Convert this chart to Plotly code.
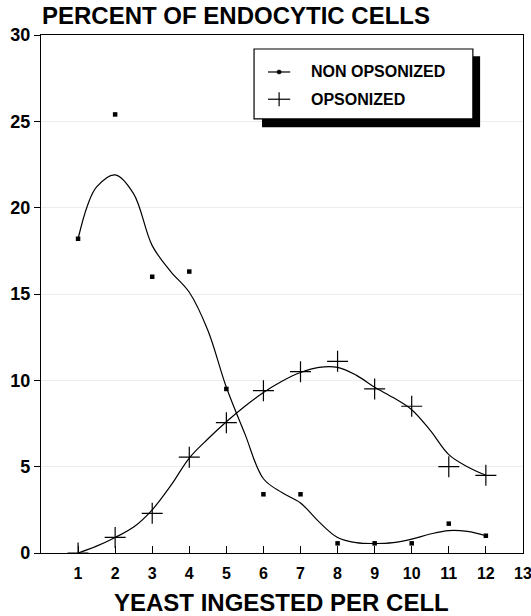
import plotly.graph_objects as go

# ---- data ----
x_points = list(range(1, 13))
non_opsonized = [18.2, 25.4, 16.0, 16.3, 9.5, 3.4, 3.4, 0.56, 0.56, 0.56, 1.7, 1.0]
opsonized = [0.0, 0.9, 2.3, 5.55, 7.55, 9.4, 10.5, 11.1, 9.5, 8.5, 5.0, 4.5]

# smoothed curves as drawn in the reference
curve_x_non = [1, 1.25, 1.5, 2, 2.5, 3, 3.5, 4, 4.5, 5, 5.5, 6, 6.5, 7, 7.5, 8, 8.5, 9, 9.5, 10, 10.5, 11, 11.5, 12]
curve_y_non = [18.2, 20.1, 21.2, 21.9, 20.8, 17.8, 16.3, 15.1, 12.9, 9.6, 6.9, 4.3, 3.5, 2.9, 1.8, 0.9, 0.6, 0.55, 0.6, 0.8, 1.1, 1.3, 1.25, 1.0]
curve_x_op = [1, 1.5, 2, 2.5, 3, 3.5, 4, 4.5, 5, 5.5, 6, 6.5, 7, 7.5, 8, 8.5, 9, 9.5, 10, 10.5, 11, 11.5, 12]
curve_y_op = [0.0, 0.4, 0.9, 1.5, 2.5, 3.9, 5.5, 6.6, 7.6, 8.5, 9.3, 9.95, 10.45, 10.75, 10.75, 10.3, 9.6, 9.0, 8.3, 7.1, 5.7, 5.0, 4.5]

x_ticks = list(range(1, 14))
y_ticks = [0, 5, 10, 15, 20, 25, 30]

title_text = "PERCENT OF ENDOCYTIC CELLS"
x_title = "YEAST INGESTED PER CELL"
legend_labels = ["NON OPSONIZED", "OPSONIZED"]

FONT = "Liberation Sans, Arial, sans-serif"

fig = go.Figure()
fig.add_trace(go.Scatter(x=curve_x_non, y=curve_y_non, mode="lines",
                         line=dict(color="black", width=1.2, shape="spline", smoothing=1.0),
                         showlegend=False, hoverinfo="skip"))
fig.add_trace(go.Scatter(x=curve_x_op, y=curve_y_op, mode="lines",
                         line=dict(color="black", width=1.2, shape="spline", smoothing=1.0),
                         showlegend=False, hoverinfo="skip"))
fig.add_trace(go.Scatter(x=x_points, y=non_opsonized, mode="markers", name=legend_labels[0],
                         marker=dict(symbol="square", size=4.5, color="black"), showlegend=False))
fig.add_trace(go.Scatter(x=x_points, y=opsonized, mode="markers", name=legend_labels[1],
                         marker=dict(symbol="cross-thin", size=15, line=dict(color="black", width=1.2)),
                         showlegend=False))

shapes = []
# legend shadow and box
shapes.append(dict(type="rect", xref="paper", yref="paper", x0=0.4585, x1=0.911, y0=0.822, y1=0.959,
                   fillcolor="black", line=dict(width=0), layer="above"))
shapes.append(dict(type="rect", xref="paper", yref="paper", x0=0.442, x1=0.896, y0=0.838, y1=0.973,
                   fillcolor="white", line=dict(color="black", width=1.2), layer="above"))
# legend symbols
row_y = [0.9286, 0.876]
lx0, lx1, lxm = 0.471, 0.517, 0.494
for ry in row_y:
    shapes.append(dict(type="line", xref="paper", yref="paper", x0=lx0, x1=lx1, y0=ry, y1=ry,
                       line=dict(color="black", width=1.2), layer="above"))
shapes.append(dict(type="circle", xref="paper", yref="paper", x0=lxm - 0.0045, x1=lxm + 0.0045,
                   y0=row_y[0] - 0.004, y1=row_y[0] + 0.004, fillcolor="black",
                   line=dict(color="black", width=0.5), layer="above"))
shapes.append(dict(type="line", xref="paper", yref="paper", x0=lxm, x1=lxm,
                   y0=row_y[1] - 0.0135, y1=row_y[1] + 0.0135, line=dict(color="black", width=1.2), layer="above"))

annotations = [
    dict(text=title_text, xref="paper", yref="paper", x=-0.002, y=1.0367, xanchor="left", yanchor="middle",
         showarrow=False, font=dict(family=FONT, size=24, color="black", weight="bold")),
    dict(text=x_title, xref="paper", yref="paper", x=0.499, y=-0.0965, xanchor="center", yanchor="middle",
         showarrow=False, font=dict(family=FONT, size=24, color="black", weight="bold")),
]
for lab, ry in zip(legend_labels, row_y):
    annotations.append(dict(text=lab, xref="paper", yref="paper", x=0.556, y=ry, xanchor="left",
                            yanchor="middle", showarrow=False,
                            font=dict(family=FONT, size=16, color="black", weight="bold")))

fig.update_layout(
    width=531, height=616,
    margin=dict(l=41, r=8, t=35, b=63),
    paper_bgcolor="white", plot_bgcolor="white",
    shapes=shapes, annotations=annotations,
    showlegend=False,
    xaxis=dict(range=[0, 13.002], tickvals=x_ticks, ticktext=[str(v) for v in x_ticks],
               ticks="inside", ticklen=7, tickwidth=1.2, tickcolor="black",
               showline=True, linecolor="black", linewidth=1.2, mirror=True,
               showgrid=False, zeroline=False, ticklabelstandoff=6, ticklabeloverflow="allow",
               automargin=False,
               tickfont=dict(family=FONT, size=16, color="black", weight="bold")),
    yaxis=dict(range=[0, 30], tickvals=y_ticks, ticktext=[str(v) for v in y_ticks],
               ticks="outside", ticklen=6, tickwidth=1.2, tickcolor="black",
               showline=True, linecolor="black", linewidth=1.2, mirror=True,
               showgrid=True, gridcolor="#ececec", gridwidth=1, zeroline=False,
               automargin=False,
               tickfont=dict(family=FONT, size=18, color="black", weight="bold")),
)

# remove the browser's default page margin so the 531x616 figure fills the window exactly
fig.write_html("out.html", config={"displayModeBar": False},
               post_script="document.body.style.margin='0';document.body.style.overflow='hidden';")
